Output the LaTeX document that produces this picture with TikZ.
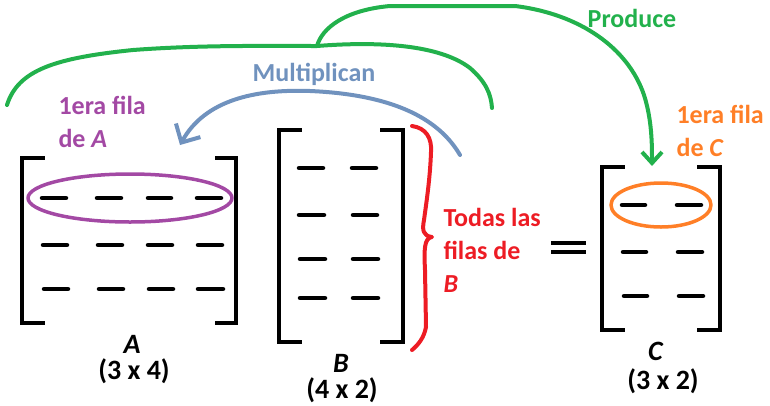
\documentclass[tikz,border=0pt]{standalone}
\usepackage{fontspec}
\setmainfont{Carlito}
\usepackage{tikz}
\usetikzlibrary{arrows.meta}
\usepackage{xcolor}
\definecolor{paintgreen}{RGB}{34,177,76}
\definecolor{paintblue}{RGB}{112,146,190}
\definecolor{paintpurple}{RGB}{163,73,164}
\definecolor{paintorange}{RGB}{255,127,39}
\definecolor{paintred}{RGB}{237,28,36}

\begin{document}
\begin{tikzpicture}[x=1pt,y=-1pt,font=\fontsize{26}{33}\selectfont\bfseries,line cap=round,line join=round,
  bracket/.style={line width=4.5pt,line cap=rect,line join=miter},
  entry/.style={line width=4.5pt},
  pen/.style={line width=4pt},
  dimlabel/.style={font=\fontsize{28}{33}\selectfont\bfseries,inner sep=0.5pt}]
\useasboundingbox (0,0) rectangle (770,405);
% matriz A
\draw[bracket] (43,158) -- (22,158) -- (22,323) -- (43,323);
\draw[bracket] (217,158) -- (236,158) -- (236,323) -- (217,323);
\draw[entry] (42,198) -- (66,198);
\draw[entry] (97,198) -- (121,198);
\draw[entry] (148,198) -- (171,198);
\draw[entry] (197,198) -- (221,198);
\draw[entry] (43,245) -- (67,245);
\draw[entry] (98,245) -- (122,245);
\draw[entry] (148,245) -- (172,245);
\draw[entry] (198,245) -- (222,245);
\draw[entry] (44,289) -- (68,289);
\draw[entry] (99,289) -- (123,289);
\draw[entry] (149,289) -- (173,289);
\draw[entry] (198,289) -- (223,289);
\draw[paintpurple,line width=3.5pt] (130,198) ellipse [x radius=102pt,y radius=24pt];
\node[dimlabel] (nameA) at (132,344) {\textit{A}};
\node[dimlabel] (sizeA) at (134,371) {(3 x 4)};
% matriz B
\draw[bracket] (300,130) -- (279,130) -- (279,342) -- (300,342);
\draw[bracket] (382,130) -- (403,130) -- (403,342) -- (382,342);
\draw[entry] (299,168) -- (323,168);
\draw[entry] (352,168) -- (376,168);
\draw[entry] (299,215) -- (324,215);
\draw[entry] (353,215) -- (377,215);
\draw[entry] (300,259) -- (325,259);
\draw[entry] (353,259) -- (378,259);
\draw[entry] (300,298) -- (325,298);
\draw[entry] (353,298) -- (378,298);
\node[dimlabel] (nameB) at (341,363) {\textit{B}};
\node[dimlabel] (sizeB) at (342,390) {(4 x 2)};
% llave de B
\draw[paintred,pen] (412,126) .. controls (426,128) and (432,138) .. (431,152)
  .. controls (430,180) and (426,205) .. (424,220) .. controls (422,230) and (423,236) .. (432,237)
  .. controls (424,238) and (424,250) .. (425,270) -- (426,327) .. controls (424,338) and (418,345) .. (412,350);
\node[paintred,anchor=west,align=left] (notaB) at (440,250) {Todas las\\filas de\\\textit{B}};
% igual
\draw[entry,line cap=rect] (553,243) -- (584,243);
\draw[entry,line cap=rect] (553,252) -- (584,252);
% matriz C
\draw[bracket] (623,167) -- (602,167) -- (602,330) -- (623,330);
\draw[bracket] (699,167) -- (720,167) -- (720,330) -- (699,330);
\draw[entry] (622,205) -- (645,205);
\draw[entry] (677,205) -- (701,205);
\draw[entry] (623,252) -- (646,252);
\draw[entry] (678,252) -- (702,252);
\draw[entry] (624,296) -- (647,296);
\draw[entry] (679,296) -- (703,296);
\draw[paintorange,line width=3.5pt] (661,205) ellipse [x radius=50pt,y radius=22pt];
\node[dimlabel] (nameC) at (656,351) {\textit{C}};
\node[dimlabel] (sizeC) at (663,381) {(3 x 2)};
% notas de fila
\node[paintpurple,anchor=west,align=left] (notaA) at (55,122) {1era fila\\de \textit{A}};
\node[paintorange,anchor=west,align=left] (notaC) at (673,131) {1era fila\\de \textit{C}};
% multiplican
\coordinate (multIni) at (460,155);
\coordinate (multFin) at (180,145);
\draw[paintblue,pen,-{Straight Barb[length=14pt,width=28pt]}] (multIni)
  .. controls (435,112) and (380,94) .. (310,91) .. controls (255,89) and (205,100) .. (multFin);
\node[paintblue] (mult) at (314,74) {Multiplican};
% produce
\coordinate (prodIzq) at (7,105);
\coordinate (prodRama) at (317,46);
\coordinate (prodDer) at (492,108);
\coordinate (prodFin) at (652,166);
\draw[paintgreen,pen] (prodIzq) .. controls (18,70) and (55,58) .. (133,50)
  .. controls (200,45) and (260,46) .. (prodRama) .. controls (380,41) and (440,45) .. (470,68)
  .. controls (486,82) and (491,94) .. (prodDer);
\draw[paintgreen,pen,-{Straight Barb[length=11pt,width=20pt]}] (prodRama)
  .. controls (322,28) and (345,10) .. (390,6) -- (515,6)
  .. controls (580,14) and (628,48) .. (644,95) .. controls (652,120) and (652,145) .. (prodFin);
\node[paintgreen] (prod) at (632,18) {Produce};
\end{tikzpicture}
\end{document}
